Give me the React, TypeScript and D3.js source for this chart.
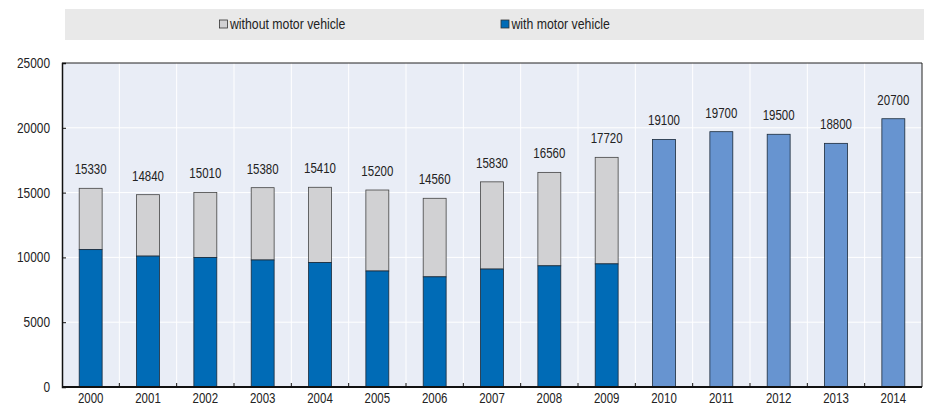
import React, { useEffect, useRef } from "react";
import * as d3 from "d3";

const years = [
  "2000", "2001", "2002", "2003", "2004", "2005", "2006", "2007",
  "2008", "2009", "2010", "2011", "2012", "2013", "2014",
];
const totals = [
  15330, 14840, 15010, 15380, 15410, 15200, 14560, 15830, 16560, 17720,
  19100, 19700, 19500, 18800, 20700,
];
// only known up to 2009
const withMotor = [10600, 10100, 10000, 9800, 9600, 8950, 8500, 9100, 9350, 9500];
const yTicks = [0, 5000, 10000, 15000, 20000, 25000];
const legendLabels = ["without motor vehicle", "with motor vehicle"];

const FONT = "'Liberation Sans', Arial, sans-serif";
const NARROW = 0.82; // fake Arial Narrow
const DARK_BLUE = "#006bb6";
const LIGHT_BLUE = "#6794d0";
const GREY = "#d1d1d3";

type Sel = d3.Selection<any, unknown, null, undefined>;

// condensed text: position by translate, squeeze horizontally
const narrowText = (parent: Sel, tx: number, ty: number, label: string, size: number, anchor = "start") =>
  parent
    .append("text")
    .attr("transform", `translate(${tx}, ${ty}) scale(${NARROW}, 1)`)
    .attr("text-anchor", anchor)
    .attr("font-family", FONT)
    .attr("font-size", size)
    .attr("fill", "#222")
    .text(label);

const App: React.FC = () => {
  const svgRef = useRef<SVGSVGElement>(null);

  useEffect(() => {
    const svg = d3.select(svgRef.current).attr("width", 934).attr("height", 410);
    svg.selectAll("*").remove();

    const margin = { top: 63, right: 12, bottom: 23, left: 62 };
    const innerWidth = 934 - margin.left - margin.right;
    const innerHeight = 410 - margin.top - margin.bottom;

    const x = d3.scaleBand().domain(years).range([0, innerWidth]).paddingInner(0.6).paddingOuter(0.3);
    const xGrid = d3.scaleBand().domain(years).range([0, innerWidth]);
    const y = d3.scaleLinear().domain([0, 25000]).range([innerHeight, 0]);

    // legend
    const lg = svg.append("g");
    lg.append("rect").attr("x", 65).attr("y", 9).attr("width", 859).attr("height", 31).attr("fill", "#e9e9e9");
    const legendX = [219.5, 501];
    const legendFill = [GREY, DARK_BLUE];
    legendLabels.forEach((label, i) => {
      lg.append("rect")
        .attr("x", legendX[i]).attr("y", 20).attr("width", 8).attr("height", 8)
        .attr("fill", legendFill[i]).attr("stroke", "#333").attr("stroke-width", 0.8);
      narrowText(lg, legendX[i] + 10.5, 29, label, 15);
    });

    const g = svg.append("g").attr("transform", `translate(${margin.left}, ${margin.top})`);

    // plot background and grid
    g.append("rect").attr("width", innerWidth).attr("height", innerHeight).attr("fill", "#e9edf6");
    years.forEach((yr, i) => {
      if (i === 0) return;
      g.append("line")
        .attr("x1", xGrid(yr)!).attr("x2", xGrid(yr)!)
        .attr("y1", 0).attr("y2", innerHeight)
        .attr("stroke", "#fff").attr("stroke-width", 1);
    });
    yTicks.slice(1, -1).forEach((t) => {
      g.append("line")
        .attr("x1", 0).attr("x2", innerWidth)
        .attr("y1", y(t)).attr("y2", y(t))
        .attr("stroke", "#fff").attr("stroke-width", 1);
    });

    // bars
    years.forEach((yr, i) => {
      const bx = x(yr)!;
      const w = x.bandwidth();
      if (i < withMotor.length) {
        g.append("rect")
          .attr("x", bx).attr("y", y(totals[i])).attr("width", w)
          .attr("height", y(withMotor[i]) - y(totals[i]))
          .attr("fill", GREY).attr("stroke", "#444").attr("stroke-width", 0.8);
        g.append("rect")
          .attr("x", bx).attr("y", y(withMotor[i])).attr("width", w)
          .attr("height", innerHeight - y(withMotor[i]))
          .attr("fill", DARK_BLUE).attr("stroke", "#1a2a3a").attr("stroke-width", 0.8);
      } else {
        g.append("rect")
          .attr("x", bx).attr("y", y(totals[i])).attr("width", w)
          .attr("height", innerHeight - y(totals[i]))
          .attr("fill", LIGHT_BLUE).attr("stroke", "#1a2a3a").attr("stroke-width", 0.8);
      }
      narrowText(g, bx + w / 2, y(totals[i]) - 14, String(totals[i]), 14, "middle");
    });

    // frame
    g.append("line").attr("x1", 0).attr("x2", innerWidth).attr("y1", 0).attr("y2", 0).attr("stroke", "#222").attr("stroke-width", 1);
    g.append("line").attr("x1", innerWidth).attr("x2", innerWidth).attr("y1", 0).attr("y2", innerHeight).attr("stroke", "#222").attr("stroke-width", 1);

    // y axis (ticks inward)
    const yAxis = d3.axisLeft(y).tickValues(yTicks).tickSize(-4).tickFormat(() => "");
    const ya = g.append("g").call(yAxis);
    ya.select(".domain").attr("stroke", "#111").attr("stroke-width", 1.5);
    ya.selectAll(".tick line").attr("stroke", "#111");
    yTicks.forEach((t) => narrowText(g, -12, y(t) + 5, String(t), 14.5, "end"));

    // x axis: ticks on category boundaries
    const xa = g.append("g").attr("transform", `translate(0, ${innerHeight})`);
    xa.append("line").attr("x1", 0).attr("x2", innerWidth).attr("stroke", "#111").attr("stroke-width", 2);
    years.forEach((yr, i) => {
      if (i > 0) {
        xa.append("line")
          .attr("x1", xGrid(yr)!).attr("x2", xGrid(yr)!)
          .attr("y1", 0).attr("y2", -4).attr("stroke", "#111");
      }
      narrowText(xa, xGrid(yr)! + xGrid.bandwidth() / 2, 16, yr, 14, "middle");
    });
  });

  return (
    <>
      <svg ref={svgRef} style={{ position: "absolute", left: 0, top: 0 }}></svg>
    </>
  );
};

export default App;
